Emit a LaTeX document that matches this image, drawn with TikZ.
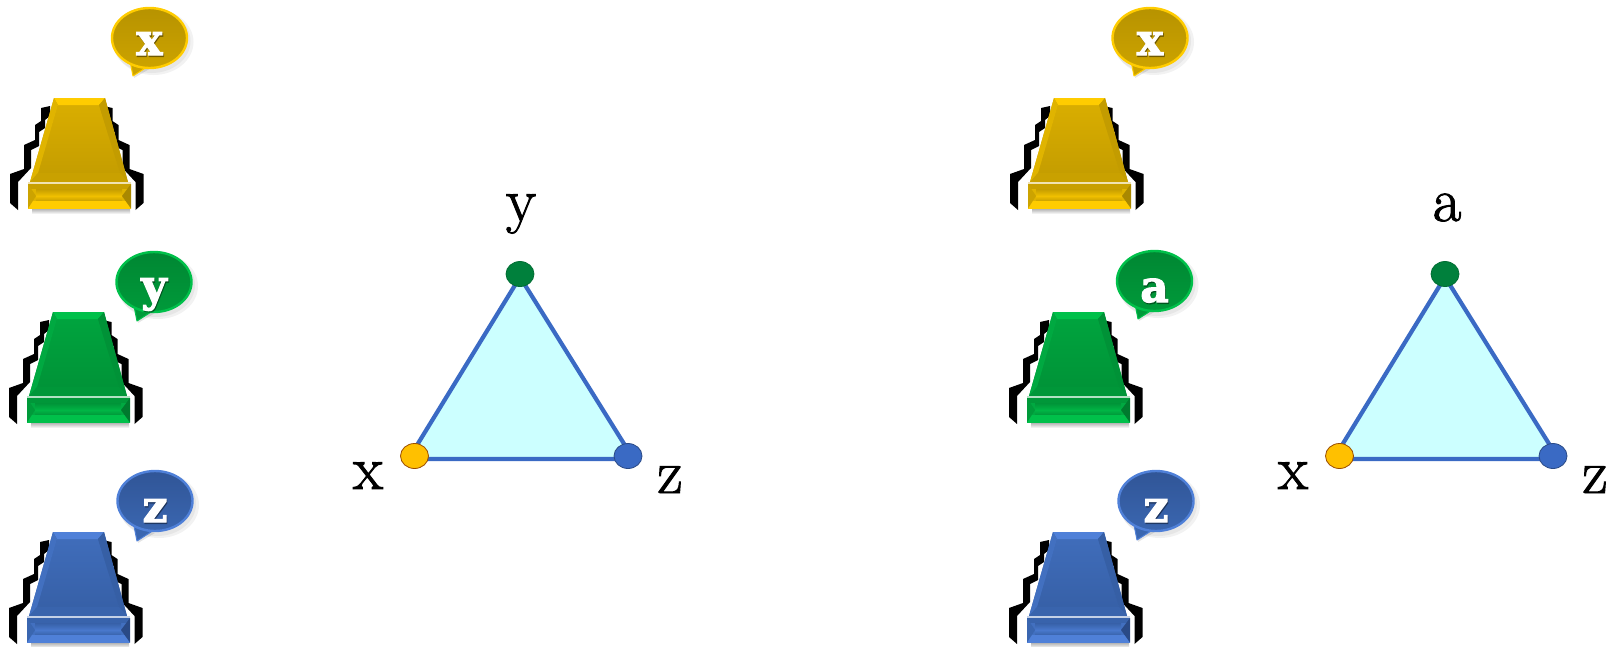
\documentclass[tikz,border=0pt]{standalone}
\usepackage{fontspec}
\usetikzlibrary{shapes.geometric}
\newfontfamily\slabfont[FakeBold=2.4]{DejaVu Serif Bold}
\newfontfamily\lblfont[FakeBold=1.5]{Latin Modern Roman}
\definecolor{edgeblue}{HTML}{3A6AC4}
\definecolor{triangfill}{HTML}{CCFFFF}
\definecolor{dotgreen}{HTML}{00803C}
\definecolor{dotgold}{HTML}{FFC000}
\definecolor{ymain}{HTML}{CCA300}\definecolor{ylight}{HTML}{FFCC00}\definecolor{ydark}{HTML}{A98800}
\definecolor{gmain}{HTML}{009A3A}\definecolor{glight}{HTML}{00C04A}\definecolor{gdark}{HTML}{007A2E}
\definecolor{bmain}{HTML}{3A66B0}\definecolor{blight}{HTML}{4F80D8}\definecolor{bdark}{HTML}{2A4A86}
\tikzset{
  bubble/.style={ellipse,inner sep=0pt,minimum width=75pt,minimum height=60pt,line width=2.4pt},
  letter/.style={font=\slabfont\fontsize{44}{44}\selectfont,text=white,inner sep=0pt},
  vertexdot/.style={ellipse,inner sep=0pt,minimum width=28pt,minimum height=25pt,line width=.8pt},
  trilabel/.style={font=\lblfont\fontsize{62}{62}\selectfont,inner sep=0pt,text=black},
  triface/.style={fill=triangfill,draw=edgeblue,line width=4.2pt,line join=round},
}
% #1 dx, #2 dy, #3 main, #4 light, #5 dark
\newcommand{\robotbody}[5]{%
\begin{scope}[shift={(#1,#2)}]
  \foreach \sh/\sc in {0/1,153.5/-1}{
  \begin{scope}[shift={(\sh,0)},xscale=\sc]
    \fill[black] (10,174)--(24,169)--(24,145)--(35,140)--(35,125)--(41,121)--(41,108)--(50,106)--(50,116)--(45,120)--(45,128)--(39,132)--(39,146)--(31,150)--(31,168)--(18,182)--(18,210)--(10,203)--cycle;
  \end{scope}}
  \shade[top color=black!40,bottom color=white,draw=none] (32,207) rectangle (130,214);
  \fill[#3] (54,98)--(105,98)--(128,182)--(30,182)--cycle;
  \shade[top color=#3!75!#4,bottom color=#3!80!#5] (58,105)--(99,105)--(120,173)--(38,173)--cycle;
  \fill[#4] (54,98)--(105,98)--(99,105)--(58,105)--cycle;
  \fill[#3!60!#4] (54,98)--(58,105)--(38,173)--(30,182)--cycle;
  \fill[#3!75!#5] (105,98)--(99,105)--(120,173)--(128,182)--cycle;
  \fill[#3!92!#5] (38,173)--(120,173)--(128,182)--(30,182)--cycle;
  \fill[white!70!#3] (28,182) rectangle (131,184);
  \fill[#3!60!#4] (28,184) rectangle (131,208.5);
  \fill[#3!90!#5] (28,184) rectangle (131,189);
  \shade[top color=#3!80!#5,bottom color=#4!70!#3] (36,189) rectangle (122,196);
  \shade[top color=#4!70!#3,bottom color=#3!90!#5] (36,196) rectangle (122,201);
  \fill[#4] (28,201) rectangle (131,208.5);
  \fill[#5] (131,184)--(131,208.5)--(122,196)--cycle;
  \fill[#3] (28,184)--(28,208.5)--(36,196)--cycle;
\end{scope}}
% #1 name, #2 cx, #3 cy, #4 tail tip x, #5 tail tip y, #6 letter, #7 main, #8 light, #9 dark
\newcommand{\speech}[9]{%
  \fill[black,opacity=.05] (#2+4,#3+4) ellipse [x radius=40,y radius=33];
  \fill[black,opacity=.05] (#2+2,#3+3) ellipse [x radius=39,y radius=32];
  \fill[black,opacity=.10] (#4+1,#5+2)--(#4+2,#5-12)--(#4+18,#5-8)--cycle;
  \coordinate (#1tip) at (#4,#5);
  \fill[#7,draw=#8,line width=1pt,line join=round] (#1tip)--(#4-3,#5-15)--(#4+14,#5-9)--cycle;
  \node[bubble,draw=#8,top color=#9!60!#7,bottom color=#7] (#1) at (#2,#3) {};
  \node[letter,text=black,opacity=.3,anchor=base] at (#2+.8,#3+\ldy+1.5) {#6};
  \node[letter,anchor=base] (#1t) at (#2,#3+\ldy) {#6};}
\begin{document}
\begin{tikzpicture}[x=1pt,y=-1pt]
\useasboundingbox (0,0) rectangle (1614,646);
% robots
\robotbody{0}{0}{ymain}{ylight}{ydark}
\robotbody{-1}{214}{gmain}{glight}{gdark}
\robotbody{-1}{434}{bmain}{blight}{bdark}
\robotbody{1000}{0}{ymain}{ylight}{ydark}
\robotbody{999}{214}{gmain}{glight}{gdark}
\robotbody{999}{434}{bmain}{blight}{bdark}
% bubbles
\def\ldy{17}
\speech{b1}{149.5}{38}{133}{76}{x}{ymain}{ylight}{ydark}
\speech{b4}{1150}{38}{1134}{76}{x}{ymain}{ylight}{ydark}
\def\ldy{19}
\speech{b2}{154}{282}{137}{321}{y}{gmain}{glight}{gdark}
\def\ldy{21}
\speech{b5}{1154.5}{281}{1138}{319}{a}{gmain}{glight}{gdark}
\speech{b3}{155}{501}{137}{541}{z}{bmain}{blight}{bdark}
\speech{b6}{1156}{501}{1137}{540}{z}{bmain}{blight}{bdark}
% left triangle
\coordinate (l1) at (408.5,459);
\coordinate (l2) at (520,277);
\coordinate (l3) at (633.5,459);
\draw[triface] (l1)--(l2)--(l3)--cycle;
\node[vertexdot,fill=dotgold,draw=orange!60!black] (lx) at (414.5,456) {};
\node[vertexdot,fill=dotgreen,draw=dotgreen!85!black] (ly) at (520,274) {};
\node[vertexdot,fill=edgeblue,draw=bdark] (lz) at (628,456) {};
\node[trilabel,anchor=base] (tx) at (368,489) {x};
\node[trilabel,anchor=base] (ty) at (521,221) {y};
\node[trilabel,anchor=base] (tz) at (670,493) {z};
% right triangle
\coordinate (r1) at (1333.5,459);
\coordinate (r2) at (1445,277);
\coordinate (r3) at (1558.5,459);
\draw[triface] (r1)--(r2)--(r3)--cycle;
\node[vertexdot,fill=dotgold,draw=orange!60!black] (rx) at (1339.5,456) {};
\node[vertexdot,fill=dotgreen,draw=dotgreen!85!black] (ry) at (1445,274) {};
\node[vertexdot,fill=edgeblue,draw=bdark] (rz) at (1553,456) {};
\node[trilabel,anchor=base] (ux) at (1293,489) {x};
\node[trilabel,anchor=base] (ua) at (1447,221) {a};
\node[trilabel,anchor=base] (uz) at (1595,493) {z};
\end{tikzpicture}
\end{document}
